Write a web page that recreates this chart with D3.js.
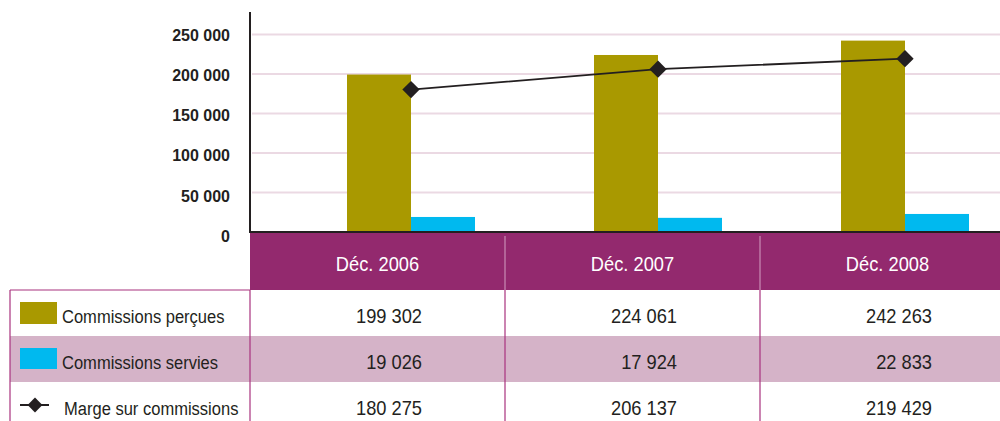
<!DOCTYPE html>
<head>
<meta charset="utf-8">
<style>
body {
  margin: 0;
  background: #fff;
}
svg {
  display: block;
}
.ylab {
  font: bold 16px "Liberation Sans", Arial, sans-serif;
  fill: #231f20;
}
.narrow {
  font-family: "Liberation Sans", Arial, sans-serif;
}
.head {
  font-size: 21px;
  fill: #fff;
}
.cell {
  font-size: 21px;
  fill: #231f20;
}
.leg {
  font-size: 19px;
  fill: #231f20;
}
</style>
</head>
<body>
<script src="https://cdn.jsdelivr.net/npm/d3@7/dist/d3.min.js"></script>
<script>
// data
var categories = ["Déc. 2006", "Déc. 2007", "Déc. 2008"];
var percues = [199302, 224061, 242263];
var servies = [19026, 17924, 22833];
var marge = [180275, 206137, 219429];
var seriesNames = ["Commissions perçues", "Commissions servies", "Marge sur commissions"];
var yTicks = [0, 50000, 100000, 150000, 200000, 250000];

(function() {
	var
		W = 1000,
		H = 421,
		axisX = 250,
		axisTop = 12,
		base = 232,
		colW = 255,
		headTop = 233,
		headBot = 290,
		rowH = 46,
		barW = 64,
		squeeze = 0.87,      // fake condensed face
		olive = "#a99900",
		cyan = "#00b9ef",
		purple = "#93296e",
		rowPink = "#d5b3c8",
		border = "#a8327e",
		ink = "#231f20";

	var fmt = function(v) {
		return d3.format(",")(v).replace(/,/g, " ");
	};

	// place a narrowed text
	var at = function(x, y) {
		return "translate(" + x + "," + y + ") scale(" + squeeze + ",1)";
	};

	var svg = d3.select("body")
	  .append("svg")
	  .attr("width", W)
	  .attr("height", H);

	var y = d3.scaleLinear()
	  .domain([0, 250000])
	  .range([base, 34.5]);

	// bar group centres
	var x = d3.scalePoint()
	  .domain(categories)
	  .range([411, 905]);

	// table columns
	var col = d3.scaleBand()
	  .domain(categories)
	  .range([axisX, axisX + colW * 3]);

	//
	// gridlines + y labels
	//
	svg.append("g").selectAll("line")
	  .data(yTicks.filter(function(d) { return d > 0; }))
	  .enter().append("line")
	  .attr("x1", axisX + 2).attr("x2", W)
	  .attr("y1", function(d) { return y(d); })
	  .attr("y2", function(d) { return y(d); })
	  .attr("stroke", "#ebd9e3")
	  .attr("stroke-width", 2);

	svg.append("g").selectAll("text")
	  .data(yTicks)
	  .enter().append("text")
	  .attr("class", "ylab")
	  .attr("x", 230)
	  .attr("y", function(d) { return y(d) + 6 + 4 * (1 - d / 250000); })
	  .attr("text-anchor", "end")
	  .text(function(d) { return fmt(d); });

	//
	// bars
	//
	svg.append("g").selectAll("rect")
	  .data(percues)
	  .enter().append("rect")
	  .attr("x", function(d, i) { return x(categories[i]) - barW; })
	  .attr("y", function(d) { return y(d); })
	  .attr("width", barW)
	  .attr("height", function(d) { return base - y(d); })
	  .attr("fill", olive);

	svg.append("g").selectAll("rect")
	  .data(servies)
	  .enter().append("rect")
	  .attr("x", function(d, i) { return x(categories[i]); })
	  .attr("y", function(d) { return y(d); })
	  .attr("width", barW)
	  .attr("height", function(d) { return base - y(d); })
	  .attr("fill", cyan);

	//
	// line + markers
	//
	var line = d3.line()
	  .x(function(d, i) { return x(categories[i]); })
	  .y(function(d) { return y(d); });

	svg.append("path")
	  .attr("d", line(marge))
	  .attr("fill", "none")
	  .attr("stroke", ink)
	  .attr("stroke-width", 1.8);

	var diamond = d3.symbol().type(d3.symbolSquare).size(150);

	svg.append("g").selectAll("path")
	  .data(marge)
	  .enter().append("path")
	  .attr("d", diamond)
	  .attr("transform", function(d, i) {
		return "translate(" + x(categories[i]) + "," + y(d) + ") rotate(45)";
	  })
	  .attr("fill", ink);

	// axes lines
	svg.append("line")
	  .attr("x1", axisX).attr("x2", axisX)
	  .attr("y1", axisTop).attr("y2", base + 1)
	  .attr("stroke", ink).attr("stroke-width", 2);
	svg.append("line")
	  .attr("x1", axisX - 1).attr("x2", W)
	  .attr("y1", base).attr("y2", base)
	  .attr("stroke", ink).attr("stroke-width", 2);

	//
	// table
	//
	var tbl = svg.append("g");

	tbl.append("rect")
	  .attr("x", axisX).attr("y", headTop)
	  .attr("width", W - axisX).attr("height", headBot - headTop)
	  .attr("fill", purple);

	tbl.append("rect")
	  .attr("x", 10).attr("y", headBot + rowH)
	  .attr("width", W - 10).attr("height", rowH)
	  .attr("fill", rowPink);

	// header dividers
	tbl.selectAll(".hdiv")
	  .data(categories.slice(1))
	  .enter().append("line")
	  .attr("class", "hdiv")
	  .attr("x1", function(d) { return col(d); })
	  .attr("x2", function(d) { return col(d); })
	  .attr("y1", headTop + 3).attr("y2", headBot)
	  .attr("stroke", "#c98db5").attr("stroke-width", 1.2);

	tbl.selectAll(".head")
	  .data(categories)
	  .enter().append("text")
	  .attr("class", "head narrow")
	  .attr("transform", function(d) { return at(col(d) + col.bandwidth() / 2, 270.5); })
	  .attr("text-anchor", "middle")
	  .text(function(d) { return d; });

	// body borders
	tbl.append("line")
	  .attr("x1", 10).attr("x2", axisX)
	  .attr("y1", headBot).attr("y2", headBot)
	  .attr("stroke", border).attr("stroke-width", 1.2);
	tbl.selectAll(".vdiv")
	  .data([10].concat(categories.map(function(d) { return col(d); })))
	  .enter().append("line")
	  .attr("class", "vdiv")
	  .attr("x1", function(d) { return d; })
	  .attr("x2", function(d) { return d; })
	  .attr("y1", headBot).attr("y2", H)
	  .attr("stroke", border).attr("stroke-width", 1.2);

	var rows = [percues, servies, marge];

	rows.forEach(function(vals, r) {
		var cy = headBot + rowH * r + 33;
		tbl.selectAll(".cell" + r)
		  .data(vals)
		  .enter().append("text")
		  .attr("class", "cell narrow")
		  .attr("transform", function(d, i) { return at(col(categories[i]) + 172, cy); })
		  .attr("text-anchor", "end")
		  .text(function(d) { return fmt(d); });

		tbl.append("text")
		  .attr("class", "leg narrow")
		  .attr("transform", at(r == 2 ? 64 : 62, cy))
		  .text(seriesNames[r]);
	});

	// legend keys
	tbl.append("rect")
	  .attr("x", 20).attr("y", 302).attr("width", 37).attr("height", 22)
	  .attr("fill", olive);
	tbl.append("rect")
	  .attr("x", 20).attr("y", 348).attr("width", 37).attr("height", 21)
	  .attr("fill", cyan);
	tbl.append("line")
	  .attr("x1", 20).attr("x2", 49)
	  .attr("y1", 405).attr("y2", 405)
	  .attr("stroke", ink).attr("stroke-width", 2);
	tbl.append("path")
	  .attr("d", d3.symbol().type(d3.symbolSquare).size(110))
	  .attr("transform", "translate(35,405) rotate(45)")
	  .attr("fill", ink);
})();
</script>
</body>
